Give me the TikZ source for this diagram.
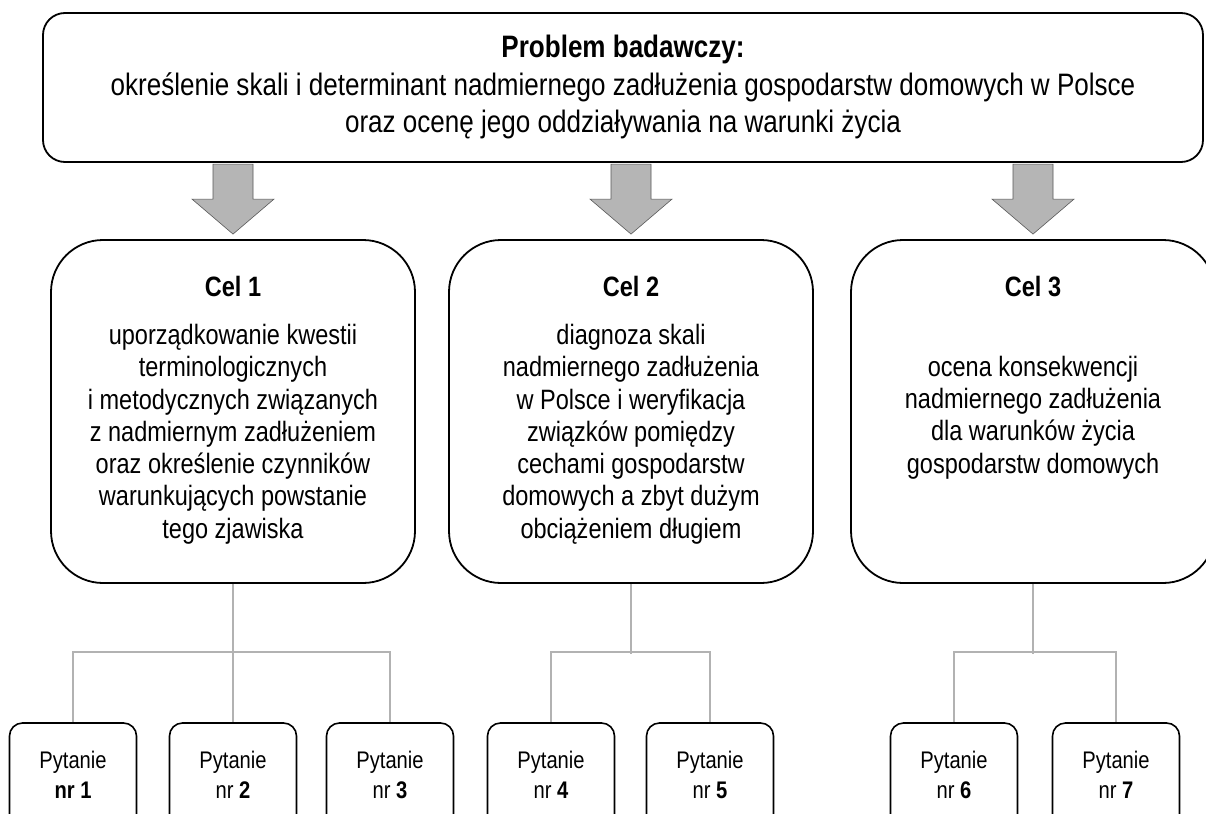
\documentclass[tikz,border=0pt]{standalone}
\usepackage{fontspec}
\setmainfont{Liberation Sans}[FakeStretch=0.84]
\usetikzlibrary{calc,positioning}
\tikzset{
    problem box/.style = {
        draw,
        line width=1.8pt,
        rounded corners=22pt,
        minimum width=1160pt,
        minimum height=149pt,
        align=center,
        font=\fontsize{31}{37.5}\selectfont,
        },
    goal box/.style = {
        draw,
        line width=1.8pt,
        rounded corners=52pt,
        minimum width=364pt,
        minimum height=343pt,
        },
    goal title/.style = {
        font=\fontsize{28}{32}\selectfont\bfseries,
        inner sep=0pt,
        },
    goal text/.style = {
        align=center,
        inner sep=0pt,
        font=\fontsize{28}{32.3}\selectfont,
        },
    question/.style = {
        draw,
        line width=1.6pt,
        rounded corners=13pt,
        minimum width=127pt,
        minimum height=104pt,
        inner sep=0pt,
        align=center,
        font=\fontsize{24}{30}\selectfont,
        },
    link/.style = {
        draw=gray!60,
        line width=2.4pt,
        },
    big arrow/.style = {
        fill=gray!58,
        draw=gray!70!black,
        line width=0.6pt,
        },
}
\begin{document}
\begin{tikzpicture}[x=1pt, y=-1pt]
    \useasboundingbox (0,0) rectangle (1206,813);
    \clip (0,0) rectangle (1206,813);
    \fill[white] (0,0) rectangle (1206,813);

    \node [problem box] (problem) at (623,87.5) {\textbf{Problem badawczy:}\\
        określenie skali i determinant nadmiernego zadłużenia gospodarstw domowych w Polsce\\
        oraz ocenę jego oddziaływania na warunki życia};

    % goals
    \node [goal box] (cel1) at (233,411.5) {};
    \node [goal box] (cel2) at (631,411.5) {};
    \node [goal box] (cel3) at (1033,411.5) {};

    \node [goal title] (cel1t) at ($(cel1.north)+(0,47)$) {Cel 1};
    \node [goal title] (cel2t) at ($(cel2.north)+(0,47)$) {Cel 2};
    \node [goal title] (cel3t) at ($(cel3.north)+(0,47)$) {Cel 3};

    \node [goal text] (cel1b) at ($(cel1.north)+(0,195)$) {uporządkowanie kwestii\\
        terminologicznych\\ i metodycznych związanych\\ z nadmiernym zadłużeniem\\
        oraz określenie czynników\\ warunkujących powstanie\\ tego zjawiska};
    \node [goal text] (cel2b) at ($(cel2.north)+(0,195)$) {diagnoza skali\\
        nadmiernego zadłużenia\\ w Polsce i weryfikacja\\ związków pomiędzy\\
        cechami gospodarstw\\ domowych a zbyt dużym\\ obciążeniem długiem};
    \node [goal text] (cel3b) at ($(cel3.north)+(0,178.5)$) {ocena konsekwencji\\
        nadmiernego zadłużenia\\ dla warunków życia\\ gospodarstw domowych};

    % problem -> goals
    \foreach \c in {cel1,cel2,cel3}
        \filldraw[big arrow, shift={(\c.north)}] (-20,-75) -- (20,-75) -- (20,-40) -- (41,-40)
            -- (0,-5) -- (-41,-40) -- (-20,-40) -- cycle;

    % questions
    \node [question] (q1) at (73,775) {Pytanie\\ \textbf{nr 1}};
    \node [question] (q2) at (233,775) {Pytanie\\ nr \textbf{2}};
    \node [question] (q3) at (390,775) {Pytanie\\ nr \textbf{3}};
    \node [question] (q4) at (551,775) {Pytanie\\ nr \textbf{4}};
    \node [question] (q5) at (710,775) {Pytanie\\ nr \textbf{5}};
    \node [question] (q6) at (954,775) {Pytanie\\ nr \textbf{6}};
    \node [question] (q7) at (1116,775) {Pytanie\\ nr \textbf{7}};

    % goal -> question links
    \draw[link] (cel1.south) -- (q2.north);
    \draw[link] (q1.north) -- ++(0,-70) -| (q3.north);
    \draw[link] (cel2.south) -- ++(0,70);
    \draw[link] (q4.north) -- ++(0,-70) -| (q5.north);
    \draw[link] (cel3.south) -- ++(0,70);
    \draw[link] (q6.north) -- ++(0,-70) -| (q7.north);
\end{tikzpicture}
\end{document}
